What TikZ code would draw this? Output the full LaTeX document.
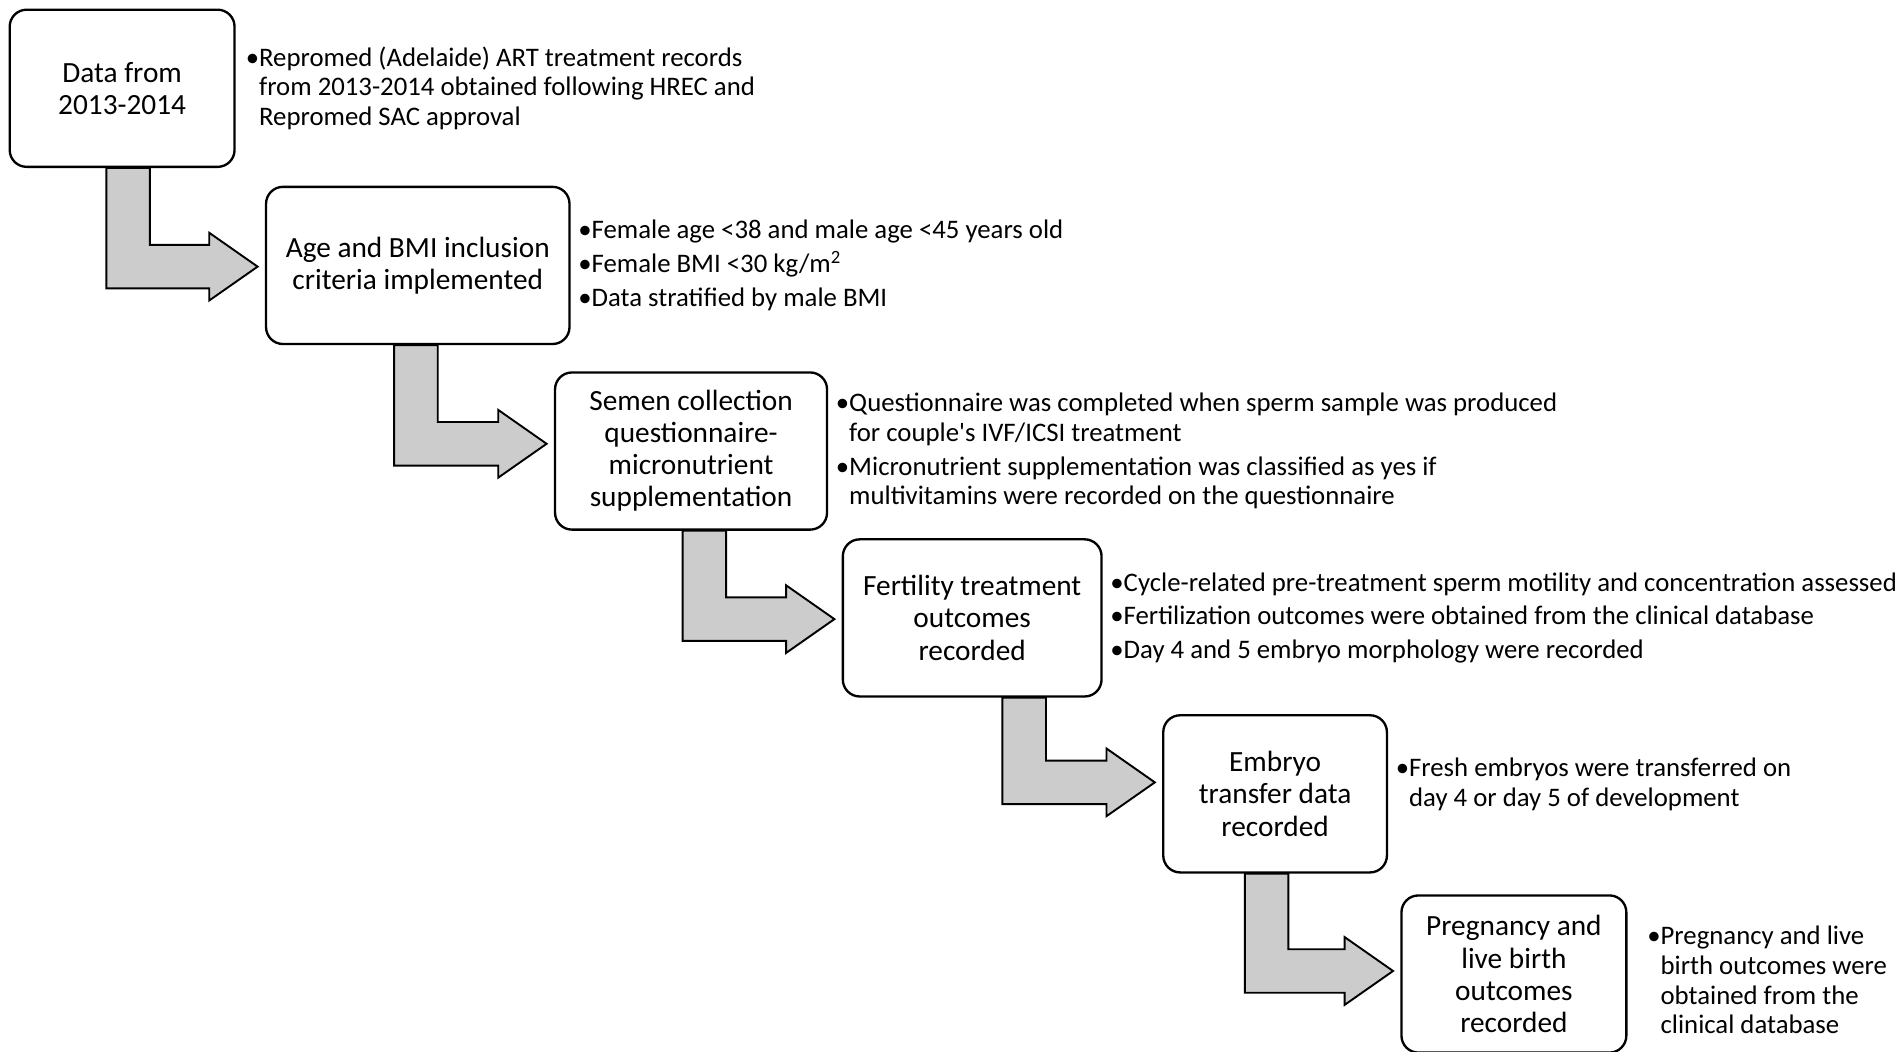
\documentclass[tikz,border=0pt]{standalone}
\usepackage{fontspec}
\setmainfont{Carlito}
\usetikzlibrary{positioning,calc,backgrounds}
\definecolor{arrowgray}{RGB}{204,204,204}
\newcommand{\bl}{\textbullet}
\newcommand{\ind}{\hphantom{\textbullet}}
\newcommand{\steparrow}[4]{%
  \draw[stepflow] ($(#1.south)+(#3-18,0)$) |- ($(#2.west)+(-46,#4+18)$) -- ++(0,10)
    -- ($(#2.west)+(-6,#4)$) -- ($(#2.west)+(-46,#4-28)$) -- ++(0,10)
    -| ($(#1.south)+(#3+18,0)$) -- cycle;}

\begin{document}
\begin{tikzpicture}[x=0.02cm,y=-0.02cm,node distance=0.12cm]
\tikzstyle{box}=[draw,fill=white,line width=1.1pt,rounded corners=0.28cm,align=center,minimum height=2.6cm,font=\fontsize{13.8pt}{15.1pt}\selectfont]
\tikzstyle{notes}=[align=left,inner sep=0pt,font=\fontsize{12.6pt}{13.9pt}\selectfont]
\tikzstyle{stepflow}=[draw,fill=arrowgray,line width=0.9pt,line join=miter]
\useasboundingbox (0,0) rectangle (1568,870);
\node[box,minimum width=3.72cm] (data) at (101,73) {Data from\\2013-2014};
\node[box,minimum width=5.02cm] (agebmi) at (345.5,219.5) {Age and BMI inclusion\\criteria implemented};
\node[box,minimum width=4.5cm] (semen) at (571.5,373) {Semen collection\\questionnaire-\\micronutrient\\supplementation};
\node[box,minimum width=4.28cm] (fertility) at (804,511) {Fertility treatment\\outcomes\\recorded};
\node[box,minimum width=3.7cm] (embryo) at (1054.5,656.5) {Embryo\\transfer data\\recorded};
\node[box,minimum width=3.72cm] (pregnancy) at (1252,805.5) {Pregnancy and\\live birth\\outcomes\\recorded};
\node[notes,right=0.16cm of data] (datanote) {\bl Repromed (Adelaide) ART treatment records\\\ind from 2013-2014 obtained following HREC and\\\ind Repromed SAC approval};
\node[notes,right=of agebmi] (agebminote) {\bl Female age <38 and male age <45 years old\\[2pt]\bl Female BMI <30 kg/m\textsuperscript{2}\\[2pt]\bl Data stratified by male BMI};
\node[notes,right=of semen] (semennote) {\bl Questionnaire was completed when sperm sample was produced\\\ind for couple\textquotesingle s IVF/ICSI treatment\\[2pt]\bl Micronutrient supplementation was classified as yes if\\\ind multivitamins were recorded on the questionnaire};
\node[notes,right=of fertility] (fertilitynote) {\bl Cycle-related pre-treatment sperm motility and concentration assessed\\[2pt]\bl Fertilization outcomes were obtained from the clinical database\\[2pt]\bl Day 4 and 5 embryo morphology were recorded};
\node[notes,right=of embryo,yshift=0.16cm] (embryonote) {\bl Fresh embryos were transferred on\\\ind day 4 or day 5 of development};
\node[notes,right=0.32cm of pregnancy,yshift=-0.1cm] (pregnancynote) {\bl Pregnancy and live\\\ind birth outcomes were\\\ind obtained from the\\\ind clinical database};
\begin{scope}[on background layer]
\steparrow{data}{agebmi}{5}{1}
\steparrow{agebmi}{semen}{-1.5}{-6}
\steparrow{semen}{fertility}{11}{1}
\steparrow{fertility}{embryo}{43}{-9.5}
\steparrow{embryo}{pregnancy}{-7}{-2.5}
\end{scope}
\end{tikzpicture}
\end{document}
